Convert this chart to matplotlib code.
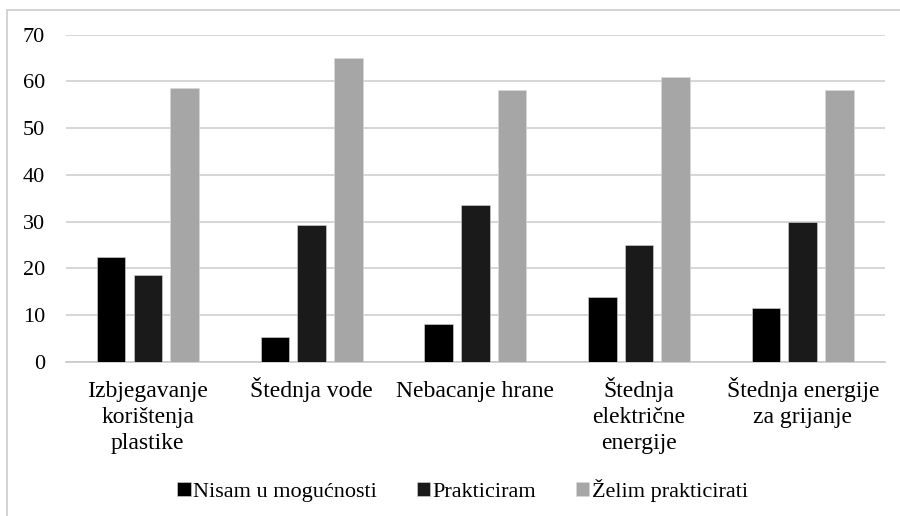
import matplotlib
matplotlib.use('Agg')
import matplotlib.pyplot as plt
import matplotlib.transforms as mtransforms
import numpy as np
from matplotlib.patches import Rectangle

categories = ['Izbjegavanje\nkorištenja\nplastike', 'Štednja vode', 'Nebacanje hrane',
              'Štednja\nelektrične\nenergije', 'Štednja energije\nza grijanje']
series_names = ['Nisam u mogućnosti', 'Prakticiram', 'Želim prakticirati']
nisam = [22.5, 5.4, 8.1, 13.9, 11.5]
prakticiram = [18.6, 29.3, 33.6, 25.0, 30.0]
zelim = [58.7, 65.0, 58.2, 61.0, 58.2]
colors = ['#000000', '#1a1a1a', '#a6a6a6']

plt.rcParams['font.family'] = ['Liberation Serif', 'DejaVu Serif']

fig = plt.figure(figsize=(9, 5.16), dpi=100)
ax = fig.add_axes([0.0733, 0.2984, 0.9097, 0.6344])

x = np.arange(len(categories))
width = 0.175
step = 0.224
for i, vals in enumerate([nisam, prakticiram, zelim]):
    ax.bar(x + (i - 1) * step, vals, width, color=colors[i], label=series_names[i],
           edgecolor='#d9d9d9', linewidth=0.4, zorder=3)

ax.set_xlim(-0.5, len(categories) - 0.5)
ax.set_ylim(0, 70)
ax.set_yticks(range(0, 71, 10))
ax.yaxis.grid(True, color='#d0d0d0', linewidth=1.2, zorder=0)
for s in ['top', 'right', 'left']:
    ax.spines[s].set_visible(False)
ax.spines['bottom'].set_color('#c8c8c8')
ax.spines['bottom'].set_linewidth(1.2)
ax.set_xticks(x)
ax.set_xticklabels([])
ax.tick_params(axis='both', length=0, labelsize=16)
ax.tick_params(axis='y', pad=15)

# category labels: one text per line so first baselines line up
base = ax.get_xaxis_transform()
for xi, cat in zip(x, categories):
    for k, line in enumerate(cat.split('\n')):
        tr = mtransforms.offset_copy(base, fig=fig, x=0, y=-(35 + 26 * k), units='dots')
        ax.text(xi, 0, line, transform=tr, ha='center', va='baseline', fontsize=17)

fig.legend(loc='center', bbox_to_anchor=(0.514, 0.05), ncol=3, frameon=False,
           fontsize=16, handlelength=0.6, handleheight=0.6, handletextpad=0.1,
           columnspacing=1.8)

# light frame around the chart area
fig.patches.append(Rectangle((7 / 900, -0.1), 1.1, 1.1 - 10 / 516, transform=fig.transFigure,
                             fill=False, edgecolor='#cccccc', linewidth=1.2))

fig.savefig('out.png', dpi=100)
